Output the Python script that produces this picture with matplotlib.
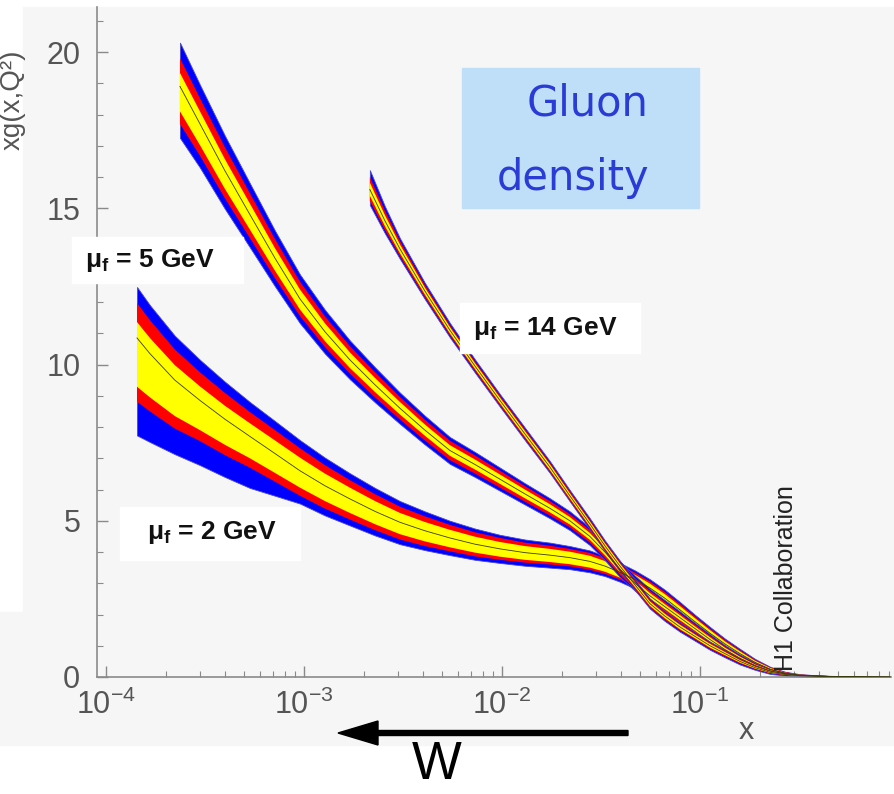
import numpy as np
import matplotlib
matplotlib.use('Agg')
import matplotlib.pyplot as plt
from matplotlib.patches import Rectangle, FancyArrow
from matplotlib.transforms import IdentityTransform
from matplotlib.ticker import LogLocator, MultipleLocator, FixedLocator, NullFormatter

plt.rcParams['font.family'] = ['Liberation Sans', 'DejaVu Sans']
plt.rcParams['mathtext.fontset'] = 'custom'
plt.rcParams['mathtext.rm'] = 'Liberation Sans'
plt.rcParams['mathtext.it'] = 'Liberation Sans:italic'
plt.rcParams['mathtext.bf'] = 'Liberation Sans:bold'

# ---------------- data ----------------
# log10(x) sample positions and band values (centre, +/- half widths of
# yellow, red and blue bands)

# mu_f = 2 GeV
lx_2 = [-3.843, -3.778, -3.652, -3.525, -3.399, -3.273, -3.146, -3.020, -2.894,
        -2.768, -2.641, -2.515, -2.389, -2.263, -2.136, -2.010, -1.884, -1.758,
        -1.657, -1.556, -1.480, -1.404, -1.328, -1.253, -1.177, -1.101, -1.025,
        -0.949, -0.874, -0.798, -0.722, -0.646, -0.571, -0.495, -0.343, -0.192,
        -0.040]
c_2 = [10.85, 10.35, 9.5, 8.85, 8.25, 7.7, 7.15, 6.6, 6.12, 5.7, 5.3, 4.95, 4.68,
       4.45, 4.25, 4.1, 3.98, 3.9, 3.82, 3.7, 3.55, 3.35, 3.12, 2.85, 2.52, 2.15,
       1.77, 1.4, 1.06, 0.75, 0.47, 0.25, 0.12, 0.06, 0.02, 0.01, 0.0]
b_up_2 = [1.63, 1.55, 1.42, 1.3, 1.2, 1.1, 1.04, 0.98, 0.9, 0.82, 0.75, 0.68, 0.62,
          0.55, 0.5, 0.45, 0.42, 0.4, 0.37, 0.35, 0.32, 0.3, 0.29, 0.28, 0.27, 0.25,
          0.22, 0.2, 0.17, 0.15, 0.11, 0.08, 0.05, 0.03, 0.01, 0.0, 0.0]
b_dn_2 = [3.12, 2.83, 2.37, 2.07, 1.85, 1.65, 1.35, 1.05, 0.95, 0.85, 0.77, 0.7, 0.62,
          0.55, 0.5, 0.45, 0.42, 0.4, 0.37, 0.35, 0.32, 0.3, 0.29, 0.28, 0.27, 0.25,
          0.22, 0.2, 0.17, 0.15, 0.11, 0.08, 0.05, 0.03, 0.01, 0.0, 0.0]
r_up_2 = [1.12, 1.07, 0.98, 0.9, 0.84, 0.78, 0.75, 0.72, 0.66, 0.6, 0.55, 0.5, 0.46,
          0.42, 0.38, 0.35, 0.32, 0.3, 0.28, 0.27, 0.25, 0.23, 0.22, 0.21, 0.2, 0.19,
          0.17, 0.15, 0.13, 0.11, 0.08, 0.06, 0.04, 0.02, 0.01, 0.0, 0.0]
r_dn_2 = [2.04, 1.85, 1.55, 1.3, 1.15, 1.0, 0.9, 0.8, 0.73, 0.66, 0.6, 0.55, 0.49,
          0.43, 0.39, 0.35, 0.32, 0.3, 0.28, 0.27, 0.25, 0.23, 0.22, 0.21, 0.2, 0.19,
          0.17, 0.15, 0.13, 0.11, 0.08, 0.06, 0.04, 0.02, 0.01, 0.0, 0.0]
y_up_2 = [0.51, 0.5, 0.48, 0.45, 0.43, 0.42, 0.42, 0.42, 0.39, 0.36, 0.33, 0.3, 0.28,
          0.26, 0.24, 0.22, 0.21, 0.2, 0.19, 0.18, 0.16, 0.15, 0.15, 0.14, 0.13, 0.12,
          0.11, 0.1, 0.08, 0.07, 0.05, 0.04, 0.02, 0.01, 0.0, 0.0, 0.0]
y_dn_2 = [1.56, 1.4, 1.15, 0.95, 0.82, 0.7, 0.62, 0.54, 0.49, 0.45, 0.41, 0.38, 0.34,
          0.3, 0.27, 0.25, 0.23, 0.22, 0.21, 0.2, 0.18, 0.17, 0.16, 0.15, 0.14, 0.13,
          0.11, 0.1, 0.08, 0.07, 0.05, 0.04, 0.02, 0.01, 0.0, 0.0, 0.0]

# mu_f = 5 GeV
lx_5 = [-3.626, -3.525, -3.399, -3.273, -3.146, -3.020, -2.894, -2.768, -2.641,
        -2.515, -2.389, -2.263, -2.136, -2.010, -1.884, -1.758, -1.657, -1.556,
        -1.480, -1.404, -1.328, -1.253, -1.177, -1.101, -1.025, -0.949, -0.874,
        -0.798, -0.722, -0.646, -0.571, -0.495, -0.343, -0.192, -0.040]
c_5 = [18.9, 17.7, 16.2, 14.8, 13.4, 12.1, 11.05, 10.15, 9.35, 8.6, 7.9, 7.25, 6.8,
       6.33, 5.86, 5.4, 5.0, 4.5, 4.0, 3.45, 3.0, 2.6, 2.25, 1.9, 1.55, 1.2, 0.88,
       0.6, 0.37, 0.2, 0.1, 0.05, 0.02, 0.01, 0.0]
b_up_5 = [1.4, 1.25, 1.12, 1.0, 0.88, 0.78, 0.7, 0.62, 0.56, 0.5, 0.46, 0.43, 0.4,
          0.37, 0.34, 0.32, 0.3, 0.28, 0.26, 0.25, 0.24, 0.22, 0.21, 0.2, 0.18, 0.17,
          0.14, 0.12, 0.09, 0.06, 0.04, 0.02, 0.01, 0.0, 0.0]
b_dn_5 = [1.65, 1.4, 1.22, 1.05, 0.9, 0.78, 0.7, 0.62, 0.56, 0.5, 0.46, 0.43, 0.4,
          0.37, 0.34, 0.32, 0.3, 0.28, 0.26, 0.25, 0.24, 0.22, 0.21, 0.2, 0.18, 0.17,
          0.14, 0.12, 0.09, 0.06, 0.04, 0.02, 0.01, 0.0, 0.0]
r_up_5 = [0.9, 0.82, 0.75, 0.68, 0.61, 0.55, 0.49, 0.44, 0.4, 0.36, 0.33, 0.31, 0.29,
          0.27, 0.25, 0.23, 0.21, 0.2, 0.19, 0.18, 0.17, 0.16, 0.15, 0.14, 0.13, 0.12,
          0.1, 0.08, 0.06, 0.04, 0.03, 0.01, 0.0, 0.0, 0.0]
r_dn_5 = [1.2, 1.02, 0.88, 0.75, 0.64, 0.55, 0.49, 0.44, 0.4, 0.36, 0.33, 0.31, 0.29,
          0.27, 0.25, 0.23, 0.21, 0.2, 0.19, 0.18, 0.17, 0.16, 0.15, 0.14, 0.13, 0.12,
          0.1, 0.08, 0.06, 0.04, 0.03, 0.01, 0.0, 0.0, 0.0]
y_up_5 = [0.43, 0.4, 0.37, 0.35, 0.32, 0.3, 0.27, 0.24, 0.22, 0.2, 0.18, 0.17, 0.16,
          0.15, 0.14, 0.13, 0.12, 0.11, 0.1, 0.1, 0.09, 0.09, 0.08, 0.08, 0.07, 0.07,
          0.06, 0.05, 0.03, 0.02, 0.01, 0.01, 0.0, 0.0, 0.0]
y_dn_5 = [0.8, 0.68, 0.58, 0.48, 0.4, 0.34, 0.3, 0.26, 0.23, 0.2, 0.18, 0.17, 0.16,
          0.15, 0.14, 0.13, 0.12, 0.11, 0.1, 0.1, 0.09, 0.09, 0.08, 0.08, 0.07, 0.07,
          0.06, 0.05, 0.03, 0.02, 0.01, 0.01, 0.0, 0.0, 0.0]

# mu_f = 14 GeV
lx_14 = [-2.667, -2.591, -2.515, -2.389, -2.263, -2.136, -2.010, -1.884, -1.758,
         -1.657, -1.556, -1.480, -1.404, -1.328, -1.253, -1.177, -1.101, -1.025,
         -0.949, -0.874, -0.798, -0.722, -0.646, -0.571, -0.495, -0.343, -0.192,
         -0.040]
c_14 = [15.6, 14.6, 13.7, 12.35, 11.1, 9.95, 8.85, 7.78, 6.72, 5.8, 4.9, 4.2, 3.55,
        2.95, 2.35, 1.95, 1.6, 1.3, 1.0, 0.75, 0.5, 0.3, 0.15, 0.08, 0.04, 0.01,
        0.0, 0.0]
b_up_14 = [0.62, 0.46, 0.34, 0.26, 0.23, 0.21, 0.2, 0.2, 0.19, 0.18, 0.18, 0.17, 0.17,
           0.17, 0.16, 0.16, 0.15, 0.14, 0.13, 0.12, 0.1, 0.07, 0.05, 0.03, 0.02,
           0.0, 0.0, 0.0]
b_dn_14 = [0.5, 0.4, 0.32, 0.26, 0.23, 0.21, 0.2, 0.2, 0.19, 0.18, 0.18, 0.17, 0.17,
           0.17, 0.16, 0.16, 0.15, 0.14, 0.13, 0.12, 0.1, 0.07, 0.05, 0.03, 0.02,
           0.0, 0.0, 0.0]
r_up_14 = [0.4, 0.32, 0.25, 0.19, 0.16, 0.15, 0.15, 0.15, 0.14, 0.14, 0.13, 0.13, 0.13,
           0.13, 0.12, 0.12, 0.11, 0.1, 0.1, 0.09, 0.07, 0.05, 0.04, 0.02, 0.01,
           0.0, 0.0, 0.0]
r_dn_14 = [0.36, 0.29, 0.23, 0.19, 0.16, 0.15, 0.15, 0.15, 0.14, 0.14, 0.13, 0.13,
           0.13, 0.13, 0.12, 0.12, 0.11, 0.1, 0.1, 0.09, 0.07, 0.05, 0.04, 0.02,
           0.01, 0.0, 0.0, 0.0]
y_up_14 = [0.22, 0.18, 0.14, 0.11, 0.1, 0.09, 0.09, 0.09, 0.09, 0.08, 0.08, 0.08,
           0.08, 0.07, 0.07, 0.07, 0.07, 0.06, 0.06, 0.05, 0.04, 0.03, 0.02, 0.01,
           0.01, 0.0, 0.0, 0.0]
y_dn_14 = [0.2, 0.17, 0.14, 0.11, 0.1, 0.09, 0.09, 0.09, 0.09, 0.08, 0.08, 0.08,
           0.08, 0.07, 0.07, 0.07, 0.07, 0.06, 0.06, 0.05, 0.04, 0.03, 0.02, 0.01,
           0.01, 0.0, 0.0, 0.0]

xtick_vals = [1e-4, 1e-3, 1e-2, 1e-1]
xtick_labels = [r'$10^{-4}$', r'$10^{-3}$', r'$10^{-2}$', r'$10^{-1}$']
ytick_vals = [0, 5, 10, 15, 20]

# ---------------- figure ----------------
W, H = 895, 794
fig = plt.figure(figsize=(W / 100, H / 100), dpi=100)
fig.patch.set_facecolor('white')


def fx(px):
    return px / W


def fy(py):
    return 1 - py / H


BG = '#f6f6f6'
fig.add_artist(Rectangle((fx(23), fy(745)), 1 - fx(23), fy(7) - fy(745),
                         transform=fig.transFigure, color=BG, zorder=0))
fig.add_artist(Rectangle((0, fy(745)), fx(23), fy(612) - fy(745),
                         transform=fig.transFigure, color=BG, zorder=0))

ax = fig.add_axes([fx(97), fy(677), fx(891) - fx(97), fy(7) - fy(677)])
ax.patch.set_alpha(0)
ax.set_xscale('log')
ax.set_xlim(10 ** -4.045, 10 ** -0.035)
ax.set_ylim(0, 670 / 31.25)

for s in ['top', 'right']:
    ax.spines[s].set_visible(False)
for s in ['left', 'bottom']:
    ax.spines[s].set_color('#8a8a8a')
    ax.spines[s].set_linewidth(1.2)

ax.xaxis.set_major_locator(FixedLocator(xtick_vals))
ax.set_xticklabels(xtick_labels)
ax.xaxis.set_minor_locator(LogLocator(base=10, subs=np.arange(2, 10)))
ax.xaxis.set_minor_formatter(NullFormatter())
ax.yaxis.set_major_locator(FixedLocator(ytick_vals))
ax.yaxis.set_minor_locator(MultipleLocator(1))
ax.tick_params(which='both', direction='in', color='#8a8a8a',
               labelcolor='#555555', labelsize=22)
ax.tick_params(which='major', length=8, width=1.0)
ax.tick_params(which='minor', length=4, width=0.8)
ax.tick_params(axis='y', pad=12)
ax.tick_params(axis='x', pad=9)


def draw_band(lx, c, yu, yd, ru, rd, bu, bd):
    x = 10.0 ** np.asarray(lx)
    c = np.asarray(c)
    ax.fill_between(x, c - np.asarray(bd), c + np.asarray(bu),
                    facecolor='#0000ff', edgecolor='#4848c8', lw=0.6, zorder=2)
    ax.fill_between(x, c - np.asarray(rd), c + np.asarray(ru),
                    facecolor='#ff0000', lw=0, zorder=2)
    ax.fill_between(x, c - np.asarray(yd), c + np.asarray(yu),
                    facecolor='#ffff00', lw=0, zorder=2)
    ax.plot(x, c, color='#3a3a10', lw=0.6, zorder=3)


draw_band(lx_2, c_2, y_up_2, y_dn_2, r_up_2, r_dn_2, b_up_2, b_dn_2)
draw_band(lx_5, c_5, y_up_5, y_dn_5, r_up_5, r_dn_5, b_up_5, b_dn_5)
draw_band(lx_14, c_14, y_up_14, y_dn_14, r_up_14, r_dn_14, b_up_14, b_dn_14)

# y label (at the left edge)
fig.text(fx(13), fy(100), 'xg(x,Q²)', rotation=90, ha='center', va='center',
         fontsize=20, color='#555555')
# x label
fig.text(fx(746), fy(731), 'x', ha='center', va='center', fontsize=22,
         color='#555555')

# Gluon density box
fig.add_artist(Rectangle((fx(462), fy(208)), fx(699) - fx(462), fy(68) - fy(208),
                         transform=fig.transFigure, color='#bfdff9', zorder=3))
fig.text(fx(588), fy(104), 'Gluon', ha='center', va='center', fontsize=30,
         color='#2b3bd6', family='DejaVu Sans', zorder=4)
fig.text(fx(573), fy(178), 'density', ha='center', va='center', fontsize=30,
         color='#2b3bd6', family='DejaVu Sans', zorder=4)

# mu_f labels
labels = [
    ((72, 237, 243, 283), r'$\mathbf{\mu_f}$ = 5 GeV', (150, 260)),
    ((460, 303, 640, 353), r'$\mathbf{\mu_f}$ = 14 GeV', (545, 328)),
    ((120, 507, 300, 560), r'$\mathbf{\mu_f}$ = 2 GeV', (212, 533)),
]
for (x0, y0, x1, y1), txt, (tx, ty) in labels:
    fig.add_artist(Rectangle((fx(x0), fy(y1)), fx(x1) - fx(x0), fy(y0) - fy(y1),
                             transform=fig.transFigure, color='white', zorder=3))
    fig.text(fx(tx), fy(ty), txt, ha='center', va='center', fontsize=19,
             fontweight='bold', color='#111111', zorder=4)

# H1 Collaboration
fig.text(fx(786), fy(671), 'H1 Collaboration', rotation=90, ha='center',
         va='bottom', fontsize=18, color='#222222', zorder=4)

# Arrow and W
fig.add_artist(FancyArrow(628, H - 733, -(628 - 338), 0, width=5,
                          head_width=24, head_length=40,
                          length_includes_head=True, color='black',
                          transform=IdentityTransform(), zorder=5))
fig.text(fx(437), fy(765), 'W', ha='center', va='center', fontsize=38,
         color='black')

fig.savefig('out.png', dpi=100)
